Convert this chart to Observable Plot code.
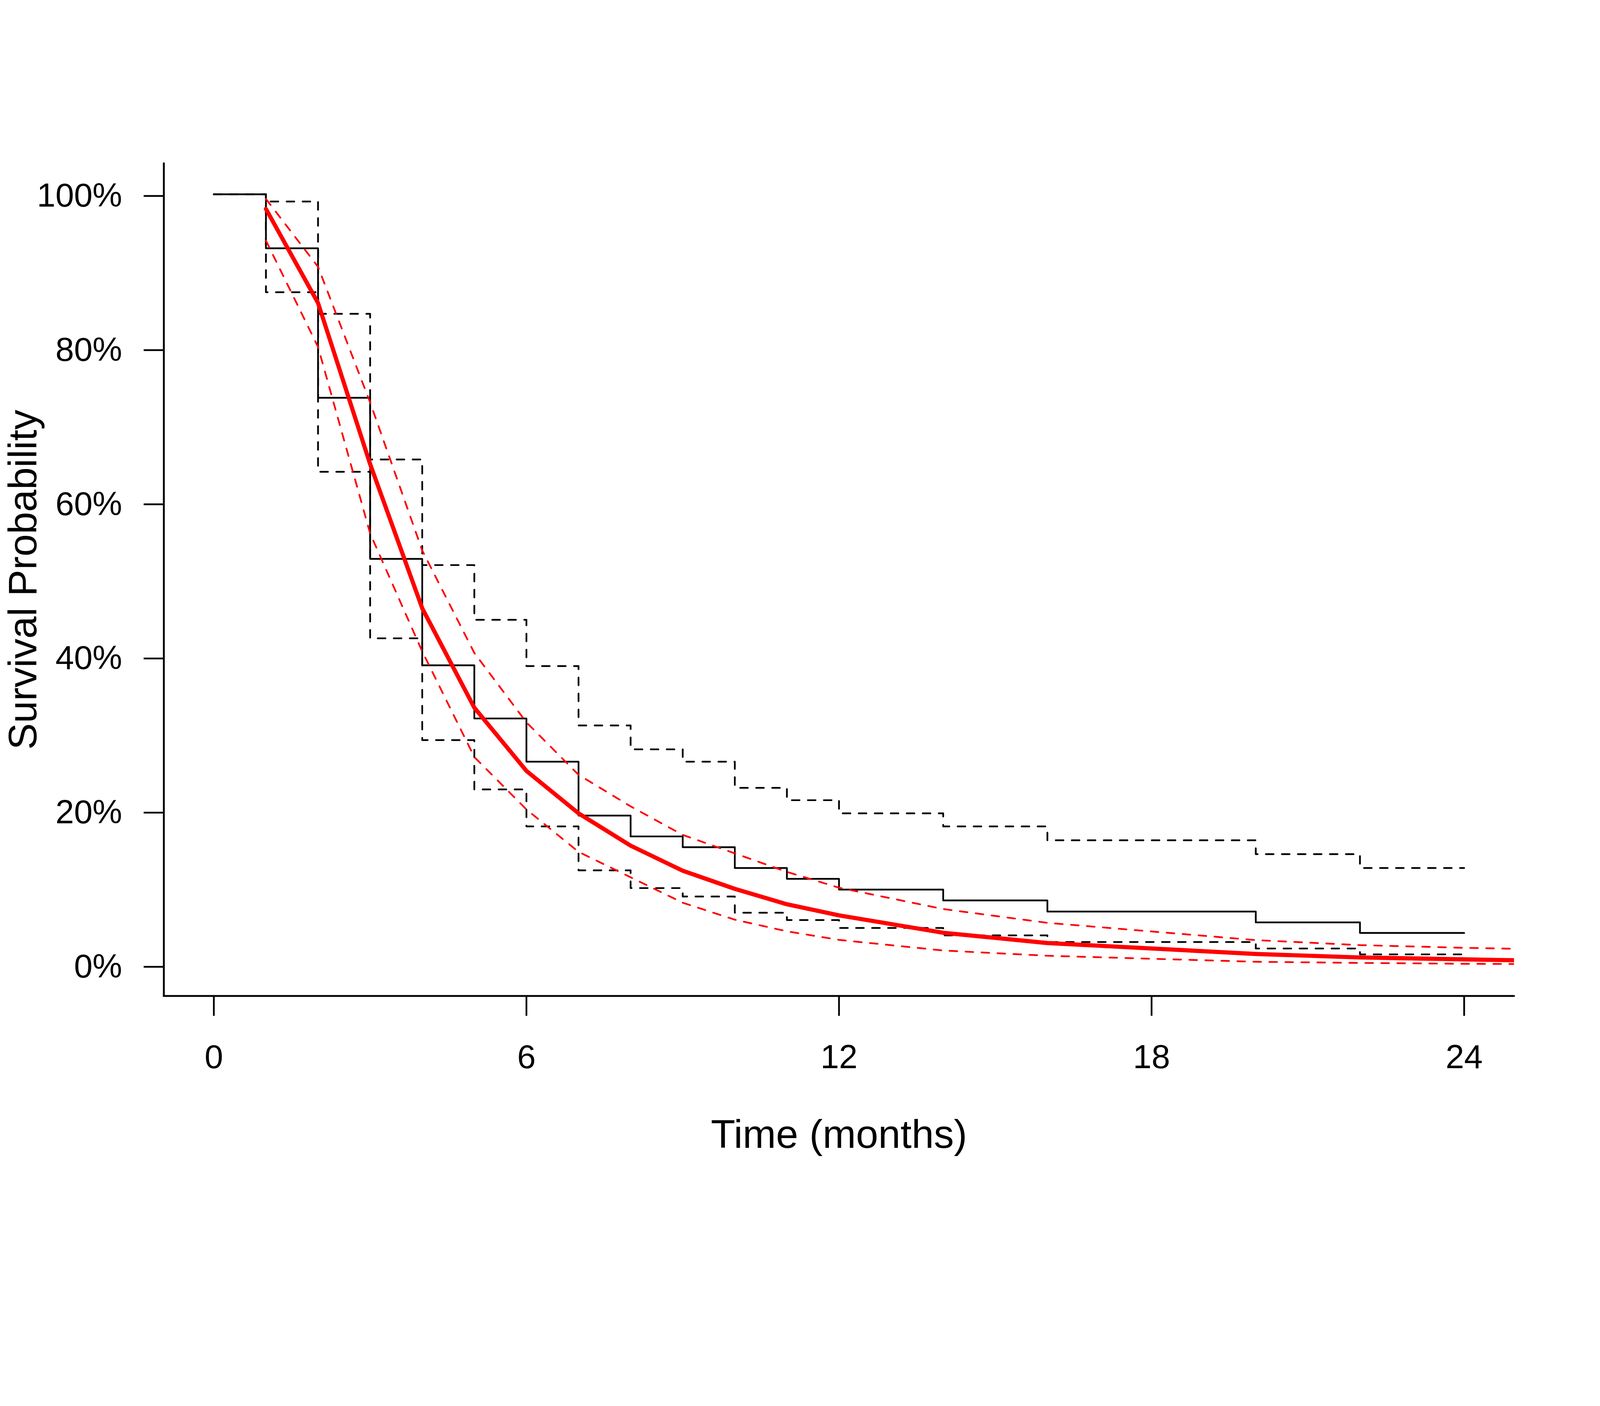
<!DOCTYPE html>
<html><head><meta charset="utf-8">
<script src="https://cdn.jsdelivr.net/npm/d3@7"></script>
<script src="https://cdn.jsdelivr.net/npm/@observablehq/plot@0.6"></script>
<style>
html,body{margin:0;padding:0;background:#fff}
#chart svg{display:block}
</style>
</head><body><div id="chart"></div>
<script>
// Kaplan-Meier estimate (percent) with 95% CI, step times in months
const kmTime  = [0, 1, 2, 3, 4, 5, 6, 7, 8, 9, 10, 11, 12, 14, 16, 20, 22, 24];
const kmSurv  = [100, 93.0, 73.6, 52.7, 38.9, 32.0, 26.4, 19.4, 16.7, 15.3, 12.6, 11.2, 9.8, 8.4, 6.95, 5.55, 4.18, 4.18];
const kmUpper = [100, 99.06, 84.5, 65.6, 51.9, 44.8, 38.8, 31.1, 28.0, 26.4, 23.0, 21.4, 19.7, 18.0, 16.2, 14.4, 12.6, 12.6];
const kmLower = [100, 87.3, 64.0, 42.4, 29.2, 22.8, 18.0, 12.3, 10.0, 8.9, 6.8, 5.85, 4.83, 3.86, 3.0, 2.16, 1.4, 1.4];

// Parametric fit (percent) with confidence band
const fitTime  = [1, 2, 3, 4, 5, 6, 7, 8, 9, 10, 11, 12, 14, 16, 20, 22, 24, 25];
const fitSurv  = [98.1, 85.9, 65.0, 46.3, 33.4, 25.2, 19.7, 15.5, 12.25, 9.9, 7.9, 6.46, 4.2, 2.87, 1.45, 1.0, 0.75, 0.63];
const fitUpper = [99.4, 90.6, 73.0, 53.8, 40.5, 31.5, 24.7, 20.6, 16.9, 14.5, 12.1, 10.05, 7.28, 5.49, 3.25, 2.6, 2.25, 2.12];
const fitLower = [94.0, 80.2, 56.0, 40.7, 27.0, 20.2, 14.7, 11.4, 8.1, 5.9, 4.39, 3.28, 1.9, 1.22, 0.44, 0.29, 0.18, 0.15];

const xTicks = [0, 6, 12, 18, 24];
const yTicks = [0, 20, 40, 60, 80, 100];
const xLabel = "Time (months)";
const yLabel = "Survival Probability";

const km = kmTime.map((t, i) => ({t, s: kmSurv[i], u: kmUpper[i], l: kmLower[i]}));
const fit = fitTime.map((t, i) => ({t, s: fitSurv[i], u: fitUpper[i], l: fitLower[i]}));

const lw = 5.2;
const dash = "23,25";

const chart = Plot.plot({
  width: 4800,
  height: 3600,
  marginLeft: 491,
  marginRight: 258,
  marginTop: 490,
  marginBottom: 612,
  style: {fontFamily: "'Liberation Sans', Arial, Helvetica, sans-serif", background: "#ffffff", color: "#000"},
  x: {domain: [-0.96, 24.96]},
  y: {domain: [-4, 104]},
  marks: [
    // KM
    Plot.line(km, {x: "t", y: "u", curve: "step-after", stroke: "#000", strokeWidth: lw, strokeDasharray: dash, strokeLinecap: "round"}),
    Plot.line(km, {x: "t", y: "l", curve: "step-after", stroke: "#000", strokeWidth: lw, strokeDasharray: dash, strokeLinecap: "round"}),
    Plot.line(km, {x: "t", y: "s", curve: "step-after", stroke: "#000", strokeWidth: lw}),
    // fit
    Plot.line(fit, {x: "t", y: "s", stroke: "#ff0000", strokeWidth: 12.5, clip: true}),
    Plot.line(fit, {x: "t", y: "u", stroke: "#ff0000", strokeWidth: lw, strokeDasharray: dash, strokeLinecap: "round", clip: true}),
    Plot.line(fit, {x: "t", y: "l", stroke: "#ff0000", strokeWidth: lw, strokeDasharray: dash, strokeLinecap: "round", clip: true}),
    // L-shaped box
    Plot.ruleX([-0.96], {stroke: "#000", strokeWidth: lw + 0.5, strokeLinecap: "round"}),
    Plot.ruleY([-4], {stroke: "#000", strokeWidth: lw + 0.5, strokeLinecap: "round"}),
    // axes
    Plot.axisX({ticks: xTicks, tickFormat: d => String(d), tickSize: 60, tickPadding: 85, fontSize: 100, strokeWidth: lw, label: null, stroke: "#000", fill: "#000"}),
    Plot.axisY({ticks: yTicks, tickFormat: d => d + "%", tickSize: 60, tickPadding: 65, fontSize: 100, strokeWidth: lw, label: null, dy: 5, stroke: "#000", fill: "#000"}),
    // axis titles
    Plot.text([xLabel], {frameAnchor: "bottom", text: d => d, textAnchor: "middle", lineAnchor: "bottom", dy: 456, fontSize: 120, fill: "#000"}),
    Plot.text([yLabel], {frameAnchor: "left", text: d => d, textAnchor: "middle", rotate: -90, lineAnchor: "bottom", dx: -383, fontSize: 120, fill: "#000"})
  ]
});
document.getElementById("chart").appendChild(chart);
</script>
</body></html>
